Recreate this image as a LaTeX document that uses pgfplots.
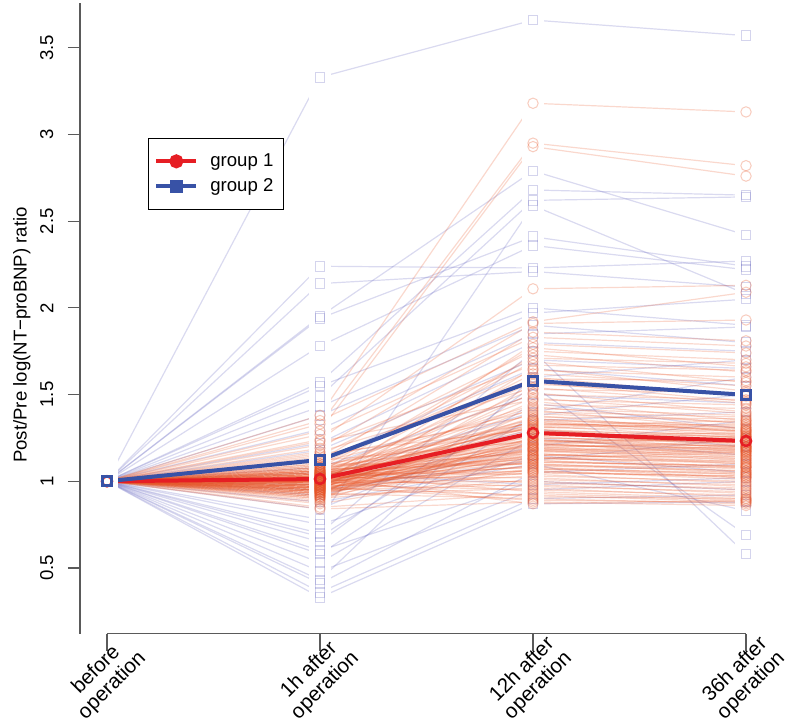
\documentclass[border=0pt]{standalone}
\usepackage{fontspec}
\setmainfont{Liberation Sans}
\usepackage{pgfplots}
\usepackage{pgfplotstable}
\pgfplotsset{compat=1.18}

\definecolor{gonel}{RGB}{232,85,40}
\definecolor{gtwol}{RGB}{85,85,185}
\definecolor{meanred}{RGB}{230,30,36}
\definecolor{meanblue}{RGB}{56,82,166}
\definecolor{axgray}{RGB}{90,90,90}

% group 1: values at 1h (a), 12h (b), 36h (c); before operation = 1
\pgfplotstableread{
a b c
1.38 3.18 3.13
1.33 2.95 2.82
1.29 2.93 2.76
1.24 2.11 2.13
1.35 1.92 2.09
1.19 1.91 1.93
1.12 1.86 1.81
1.27 1.83 1.78
0.98 1.79 1.74
1.05 1.77 1.66
1.15 1.75 1.70
0.94 1.73 1.63
1.08 1.71 1.68
1.02 1.69 1.57
1.21 1.67 1.64
0.91 1.65 1.52
1.10 1.64 1.60
1.00 1.62 1.55
0.96 1.60 1.49
1.13 1.59 1.58
1.04 1.57 1.46
0.88 1.56 1.50
1.17 1.54 1.45
1.01 1.53 1.51
0.95 1.51 1.40
1.07 1.50 1.47
0.99 1.48 1.39
1.23 1.47 1.44
0.93 1.46 1.35
1.06 1.44 1.42
1.03 1.43 1.33
0.97 1.42 1.38
1.11 1.41 1.30
0.90 1.40 1.37
1.02 1.39 1.34
1.14 1.38 1.28
0.98 1.37 1.36
1.05 1.36 1.29
0.92 1.35 1.32
1.09 1.34 1.26
1.00 1.33 1.31
0.96 1.32 1.25
1.04 1.31 1.29
1.16 1.30 1.22
0.94 1.29 1.27
1.01 1.28 1.21
1.07 1.27 1.24
0.99 1.26 1.19
0.89 1.25 1.23
1.03 1.24 1.18
1.12 1.23 1.20
0.97 1.22 1.16
1.00 1.21 1.19
1.06 1.20 1.14
0.93 1.19 1.17
1.02 1.18 1.12
0.95 1.17 1.15
1.08 1.16 1.10
0.99 1.15 1.13
1.04 1.14 1.08
0.91 1.13 1.11
1.01 1.12 1.07
0.96 1.11 1.09
1.10 1.10 1.05
0.98 1.09 1.06
1.03 1.08 1.02
0.87 1.07 1.04
1.00 1.06 1.01
0.94 1.05 1.03
1.05 1.04 0.99
0.97 1.03 1.00
1.02 1.02 0.97
0.90 1.01 0.98
0.99 1.00 0.95
1.06 0.99 0.96
0.95 0.98 0.93
1.01 0.97 0.94
0.92 0.96 0.91
0.98 0.95 0.92
1.04 0.94 0.90
0.85 0.93 0.89
0.96 0.92 0.88
1.00 0.91 0.90
0.93 0.90 0.87
0.97 0.89 0.88
0.84 0.88 0.86
1.02 0.87 0.89
1.01 1.30 1.25
0.97 1.28 1.20
1.03 1.27 1.26
0.95 1.25 1.22
1.08 1.24 1.17
1.00 1.23 1.24
0.92 1.22 1.15
1.05 1.21 1.18
0.98 1.20 1.21
1.02 1.19 1.13
0.94 1.18 1.16
1.06 1.17 1.19
0.99 1.16 1.11
1.01 1.15 1.14
0.96 1.14 1.10
1.04 1.13 1.12
0.93 1.12 1.08
1.00 1.11 1.09
1.07 1.10 1.06
0.97 1.09 1.08
1.02 1.08 1.04
0.95 1.07 1.05
1.03 1.06 1.02
0.99 1.05 1.03
1.01 1.33 1.30
0.96 1.35 1.27
1.09 1.31 1.33
0.98 1.29 1.24
1.04 1.26 1.28
0.91 1.24 1.20
1.00 1.36 1.31
1.03 1.32 1.35
0.97 1.19 1.23
1.05 1.22 1.26
0.94 1.15 1.18
1.02 1.13 1.17
0.99 1.27 1.22
1.06 1.34 1.29
0.95 1.21 1.25
1.00 1.18 1.20
}\groupone

% group 2
\pgfplotstableread{
a b c
3.33 3.66 3.57
2.24 2.23 2.27
2.14 2.21 2.12
1.95 2.79 2.42
1.94 2.41 2.24
1.78 2.36 2.22
1.57 2.68 2.65
1.55 2.00 1.90
1.49 2.62 2.64
1.43 1.97 2.05
1.30 1.85 1.89
1.22 1.80 1.75
1.12 1.65 1.55
1.08 1.50 1.45
1.02 1.40 1.60
0.98 1.30 1.20
0.92 1.20 1.35
0.88 1.10 0.83
0.78 2.59 2.08
0.70 1.75 0.58
0.68 1.45 1.30
0.65 1.55 0.69
0.60 1.00 0.95
0.53 1.25 1.15
0.48 0.95 1.00
0.43 1.60 1.70
0.41 1.05 1.10
0.36 0.90 0.92
0.33 0.87 0.88
1.18 1.70 1.65
0.84 1.35 1.40
0.75 1.15 1.05
1.05 0.98 1.02
0.95 1.12 1.25
1.38 1.90 1.80
0.58 1.38 1.50
}\grouptwo

\begin{document}
\begin{tikzpicture}
\begin{axis}[
  scale only axis,
  width=346.6pt, height=315.6pt,
  xmin=-0.127, xmax=3.127, ymin=0.12, ymax=3.76,
  clip=false,
  axis x line*=bottom, axis y line*=left,
  x axis line style={draw=none},
  y axis line style={-, axgray, line width=0.6pt},
  xtick={0,1,2,3},
  xticklabels={{before\\operation},{1h after\\operation},{12h after\\operation},{36h after\\operation}},
  ytick={0.5,1,1.5,2,2.5,3,3.5},
  tick align=outside,
  xtick style={axgray, line width=0.6pt, /pgfplots/major tick length=8.5pt},
  ytick style={axgray, line width=0.6pt, /pgfplots/major tick length=6pt},
  x tick label style={xshift=6.5pt, yshift=5pt, rotate=45, anchor=north east, align=center, inner sep=0pt,
    font=\fontsize{10.3}{11.2}\selectfont},
  y tick label style={xshift=-5.5pt, rotate=90, anchor=south, font=\fontsize{9.3}{11}\selectfont},
  /pgf/number format/assume math mode=true,
  ylabel={Post/Pre log(NT−proBNP) ratio},
  ylabel style={at={(axis description cs:-0.0837,0.4736)}, anchor=center, font=\fontsize{9.3}{11}\selectfont},
  legend style={at={(axis description cs:0.098,0.7857)}, anchor=north west, draw=black, line width=0.5pt,
    font=\fontsize{9.3}{11}\selectfont, cells={anchor=west}, inner xsep=3pt, inner ysep=5.5pt, row sep=0.5pt,
    /tikz/every odd column/.append style={column sep=4pt}},
  legend image code/.code={\draw[#1, mark repeat=2, mark phase=2] plot coordinates {(0pt,0pt) (10pt,0pt) (20pt,0pt)};},
]
% individual lines, group 2
\pgfplotstablegetrowsof{\grouptwo}
\pgfmathtruncatemacro{\Nb}{\pgfplotsretval-1}
\pgfplotsforeachungrouped \i in {0,...,\Nb}{%
  \pgfplotstablegetelem{\i}{a}\of\grouptwo \let\va\pgfplotsretval
  \pgfplotstablegetelem{\i}{b}\of\grouptwo \let\vb\pgfplotsretval
  \pgfplotstablegetelem{\i}{c}\of\grouptwo \let\vc\pgfplotsretval
  \edef\tmp{\noexpand\addplot[forget plot, gtwol, draw opacity=0.22, line width=0.6pt] coordinates {(0,1) (1,\va) (2,\vb) (3,\vc)};}%
  \tmp
}
% individual lines, group 1
\pgfplotstablegetrowsof{\groupone}
\pgfmathtruncatemacro{\Na}{\pgfplotsretval-1}
\pgfplotsforeachungrouped \i in {0,...,\Na}{%
  \pgfplotstablegetelem{\i}{a}\of\groupone \let\va\pgfplotsretval
  \pgfplotstablegetelem{\i}{b}\of\groupone \let\vb\pgfplotsretval
  \pgfplotstablegetelem{\i}{c}\of\groupone \let\vc\pgfplotsretval
  \edef\tmp{\noexpand\addplot[forget plot, gonel, draw opacity=0.23, line width=0.6pt] coordinates {(0,1) (1,\va) (2,\vb) (3,\vc)};}%
  \tmp
}
% mean lines
\addplot[forget plot, meanred, line width=2pt] coordinates {(0,1) (1,1.013) (2,1.279) (3,1.232)};
\addplot[forget plot, meanblue, line width=2pt] coordinates {(0,1) (1,1.123) (2,1.579) (3,1.498)};
% gaps around points (type "b")
\addplot[forget plot, white, line width=11pt] coordinates {(0,0.85) (0,1.15)};
\addplot[forget plot, white, line width=11pt] coordinates {(1,0.22) (1,3.45)};
\addplot[forget plot, white, line width=11pt] coordinates {(2,0.75) (2,3.73)};
\addplot[forget plot, white, line width=11pt] coordinates {(3,0.45) (3,3.65)};
% individual points
\addplot[forget plot, only marks, mark=square, mark size=2.4pt, gtwol, draw opacity=0.25, mark options={line width=0.5pt}] table[x expr=1, y=a] {\grouptwo};
\addplot[forget plot, only marks, mark=square, mark size=2.4pt, gtwol, draw opacity=0.25, mark options={line width=0.5pt}] table[x expr=2, y=b] {\grouptwo};
\addplot[forget plot, only marks, mark=square, mark size=2.4pt, gtwol, draw opacity=0.25, mark options={line width=0.5pt}] table[x expr=3, y=c] {\grouptwo};
\addplot[forget plot, only marks, mark=o, mark size=2.6pt, gonel, draw opacity=0.3, mark options={line width=0.5pt}] table[x expr=1, y=a] {\groupone};
\addplot[forget plot, only marks, mark=o, mark size=2.6pt, gonel, draw opacity=0.3, mark options={line width=0.5pt}] table[x expr=2, y=b] {\groupone};
\addplot[forget plot, only marks, mark=o, mark size=2.6pt, gonel, draw opacity=0.3, mark options={line width=0.5pt}] table[x expr=3, y=c] {\groupone};
% mean points
\addplot[forget plot, only marks, mark=o, mark size=2.5pt, meanred, mark options={line width=1.3pt}] coordinates {(0,1) (1,1.013) (2,1.279) (3,1.232)};
\addplot[forget plot, only marks, mark=square, mark size=2.3pt, meanblue, mark options={line width=1.5pt}] coordinates {(0,1) (1,1.123) (2,1.579) (3,1.498)};
% x axis line
\draw[axgray, line width=0.6pt] (axis cs:0,0.12) -- (axis cs:3,0.12);
% legend
\addlegendimage{meanred, line width=2pt, mark=*, mark size=2.5pt}
\addlegendentry{group 1}
\addlegendimage{meanblue, line width=2pt, mark=square*, mark size=2.3pt}
\addlegendentry{group 2}
\coordinate (bbsw) at (axis cs:-0.5023,-0.3766);
\coordinate (bbne) at (axis cs:3.1925,3.7757);
\end{axis}
\pgfresetboundingbox
\useasboundingbox (bbsw) rectangle (bbne);
\end{tikzpicture}
\end{document}
